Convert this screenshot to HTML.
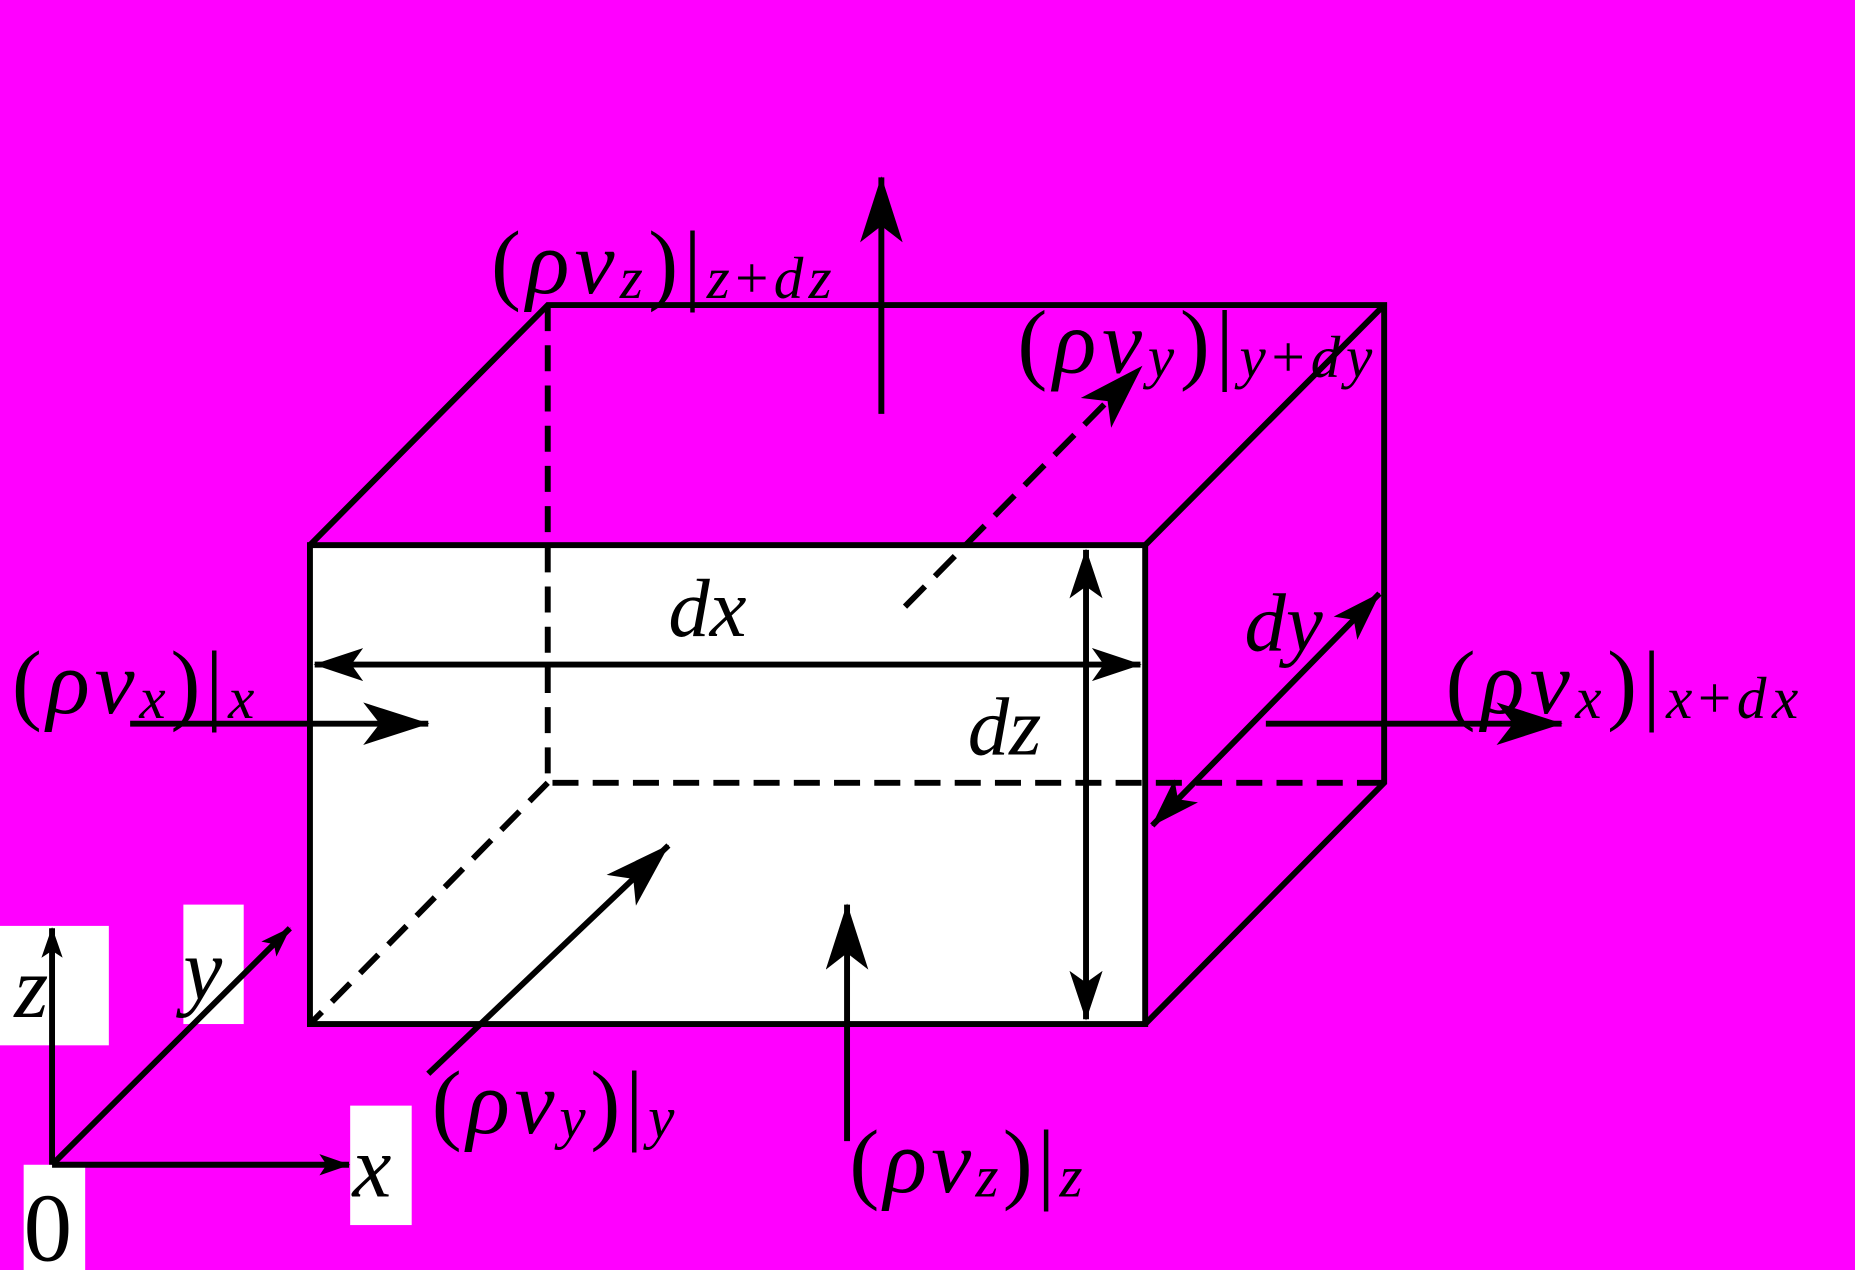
<!DOCTYPE html>
<html><head><meta charset="utf-8"><style>
html,body{margin:0;padding:0;background:#ff00ff;}
svg{display:block}
text{font-family:"Liberation Serif",serif;fill:#000;}
.i{font-style:italic}
</style></head><body>
<svg width="1855" height="1270" viewBox="0 0 1568 1074" preserveAspectRatio="none" xmlns="http://www.w3.org/2000/svg">
<defs>
<marker id="a" viewBox="0 0 26 18" refX="25" refY="9" markerWidth="26" markerHeight="18" markerUnits="userSpaceOnUse" orient="auto-start-reverse">
<path d="M0,0 L26,9 L0,18 L6,9 Z" fill="#000"/></marker>
<marker id="b" viewBox="0 0 56 36" refX="55" refY="18" markerWidth="56" markerHeight="36" markerUnits="userSpaceOnUse" orient="auto">
<path d="M0,0 L56,18 L0,36 L14,18 Z" fill="#000"/></marker>
<marker id="c" viewBox="0 0 42 28" refX="41" refY="14" markerWidth="42" markerHeight="28" markerUnits="userSpaceOnUse" orient="auto-start-reverse">
<path d="M0,0 L42,14 L0,28 L10,14 Z" fill="#000"/></marker>
</defs>
<rect width="1568" height="1074" fill="#ff00ff"/>
<rect x="262" y="461" width="706" height="405" fill="#fff"/>
<g stroke="#000" stroke-width="5" fill="none">
<rect x="262" y="461" width="706" height="405"/>
<path d="M262,461 L463,258 L1170,258 L1170,662 L968,866 M968,461 L1170,258"/>
<path d="M463,258 L463,662 L1170,662 M463,662 L262,866" stroke-dasharray="22,12"/>
</g>
<g stroke="#000" stroke-width="5">
<line x1="266" y1="562" x2="964" y2="562" marker-start="url(#c)" marker-end="url(#c)"/>
<line x1="918" y1="465" x2="918" y2="862" marker-start="url(#c)" marker-end="url(#c)"/>
<line x1="974" y1="698" x2="1166" y2="502" marker-start="url(#c)" marker-end="url(#c)"/>
<line x1="110" y1="612" x2="362" y2="612" marker-end="url(#b)"/>
<line x1="1070" y1="612" x2="1320" y2="612" marker-end="url(#b)"/>
<line x1="745" y1="350" x2="745" y2="150" marker-end="url(#b)"/>
<line x1="716" y1="965" x2="716" y2="765" marker-end="url(#b)"/>
<line x1="362" y1="908" x2="565" y2="715" marker-end="url(#b)"/>
<line x1="765" y1="513" x2="965" y2="310" stroke-dasharray="24,12" marker-end="url(#b)"/>
</g>
<rect x="0" y="783" width="92" height="101" fill="#fff"/>
<rect x="155" y="765" width="51" height="101" fill="#fff"/>
<rect x="296" y="935" width="52" height="101" fill="#fff"/>
<rect x="20" y="985" width="52" height="89" fill="#fff"/>
<g stroke="#000" stroke-width="5">
<line x1="44" y1="985" x2="44" y2="785" marker-end="url(#a)"/>
<line x1="44" y1="985" x2="295" y2="985" marker-end="url(#a)"/>
<line x1="44" y1="985" x2="245" y2="785" marker-end="url(#a)"/>
</g>
<text class="i" x="12" y="860" font-size="74">z</text>
<text class="i" x="155" y="845" font-size="74">y</text>
<text class="i" x="298" y="1012" font-size="74">x</text>
<text x="20" y="1066" font-size="82">0</text>
<text class="i" x="565" y="538" font-size="70">dx</text>
<text class="i" x="818" y="638" font-size="70">dz</text>
<text class="i" x="1052" y="550" font-size="70">dy</text>
<g font-size="76">
<text x="10" y="603" textLength="205" lengthAdjust="spacing">(<tspan class="i">ρv</tspan><tspan class="i" font-size="50" dy="4">x</tspan><tspan dy="-4">)|</tspan><tspan class="i" font-size="50" dy="4">x</tspan></text>
<text x="1222" y="603" textLength="298" lengthAdjust="spacing">(<tspan class="i">ρv</tspan><tspan class="i" font-size="50" dy="4">x</tspan><tspan dy="-4">)|</tspan><tspan class="i" font-size="50" dy="4">x</tspan><tspan font-size="50">+</tspan><tspan class="i" font-size="50">dx</tspan></text>
<text x="415" y="248" textLength="288" lengthAdjust="spacing">(<tspan class="i">ρv</tspan><tspan class="i" font-size="50" dy="4">z</tspan><tspan dy="-4">)|</tspan><tspan class="i" font-size="50" dy="4">z</tspan><tspan font-size="50">+</tspan><tspan class="i" font-size="50">dz</tspan></text>
<text x="860" y="315" textLength="300" lengthAdjust="spacing">(<tspan class="i">ρv</tspan><tspan class="i" font-size="50" dy="4">y</tspan><tspan dy="-4">)|</tspan><tspan class="i" font-size="50" dy="4">y</tspan><tspan font-size="50">+</tspan><tspan class="i" font-size="50">dy</tspan></text>
<text x="365" y="958" textLength="205" lengthAdjust="spacing">(<tspan class="i">ρv</tspan><tspan class="i" font-size="50" dy="4">y</tspan><tspan dy="-4">)|</tspan><tspan class="i" font-size="50" dy="4">y</tspan></text>
<text x="718" y="1008" textLength="197" lengthAdjust="spacing">(<tspan class="i">ρv</tspan><tspan class="i" font-size="50" dy="4">z</tspan><tspan dy="-4">)|</tspan><tspan class="i" font-size="50" dy="4">z</tspan></text>
</g>
</svg>
</body></html>
